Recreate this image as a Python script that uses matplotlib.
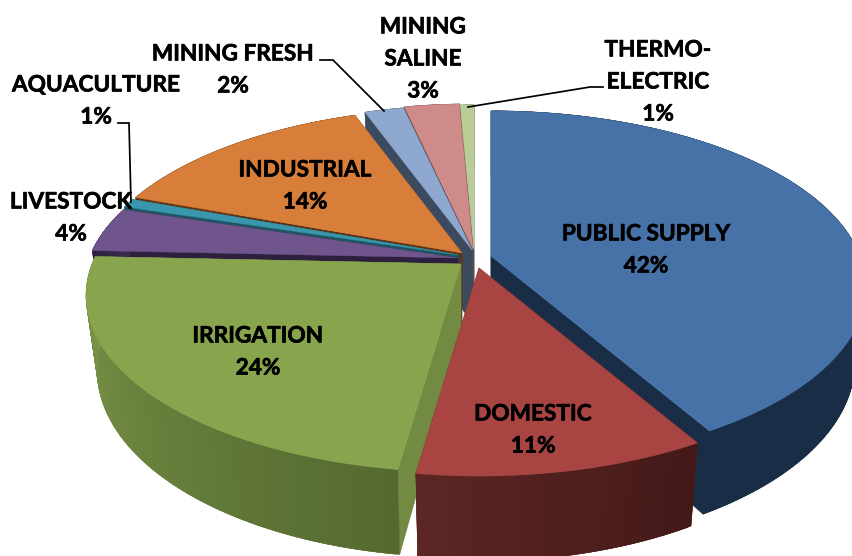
import numpy as np
import matplotlib
matplotlib.use("Agg")
import matplotlib.pyplot as plt
import matplotlib.patheffects as pe
from matplotlib.patches import Polygon
from matplotlib.colors import to_rgb

# ---- data (clockwise from 12 o'clock) ----
categories = ["PUBLIC SUPPLY", "DOMESTIC", "IRRIGATION", "LIVESTOCK", "AQUACULTURE",
              "INDUSTRIAL", "MINING FRESH", "MINING SALINE", "THERMO-ELECTRIC"]
values = [41.65, 10.6, 23.45, 4.1, 0.8, 13.9, 2.0, 2.8, 0.7]
label_texts = ["PUBLIC SUPPLY\n42%", "DOMESTIC\n11%", "IRRIGATION\n24%", "LIVESTOCK\n4%",
               "AQUACULTURE\n1%", "INDUSTRIAL\n14%", "MINING FRESH\n2%", "MINING\nSALINE\n3%",
               "THERMO-\nELECTRIC\n1%"]

# ---- styles ----
top_colors = ["#4672A8", "#A84543", "#88A54E", "#70558D", "#3A96AD", "#D77F3A", "#8FA8CF", "#CE8B8A", "#BACD96"]
wall_left = ["#1A2D46", "#5C2624", "#7E994B", "#3A2B4C", "#1F5563", "#6E3F18", "#3C4A60", "#6A4545", "#6D7A55"]
wall_right = ["#1A2D46", "#431917", "#55692F", "#2D203F", "#1F5563", "#5E3311", "#3C4A60", "#6A4545", "#6D7A55"]
cut_colors = ["#1A2D46", "#5C2624", "#728A42", "#2D203F", "#1F5563", "#5E3311", "#3C4A60", "#6A4545", "#4A5560"]
apex_x = [491, 479, 461, 458, 459, 462, 472, 473, 474]
apex_y = [256, 268, 264, 258, 255, 253, 250, 249, 250]
label_x = [646, 533, 258, 71, 96, 305, 233, 423, 658]
label_y = [250, 430, 352, 218, 101, 186, 70, 59, 82]
draw_order = [8, 7, 6, 5, 4, 3, 2, 0, 1]

RX, RY, K = 369.0, 171.0, 0.178
RX_LOW, RY_LOW, DROP = 358.0, 181.0, 73.0

fig = plt.figure(figsize=(8.53, 5.56), dpi=100)
ax = fig.add_axes([0, 0, 1, 1])
ax.set_xlim(0, 853)
ax.set_ylim(556, 0)
ax.axis("off")


def upper(i, th):
    u, v = np.sin(th), np.cos(th)
    w = 1 + K * v
    return apex_x[i] + RX * u / w, apex_y[i] - RY * v / w


def lower(i, th):
    u, v = np.sin(th), np.cos(th)
    w = 1 + K * v
    return apex_x[i] + RX_LOW * u / w, apex_y[i] + DROP - RY_LOW * v / w


edges = np.cumsum([0] + values) / np.sum(values) * 2 * np.pi

for z, i in enumerate(draw_order):
    a, b = edges[i], edges[i + 1]
    n = max(int((b - a) / np.radians(0.5)), 2)
    ths = np.linspace(a, b, n + 1)
    base = z * 10 + 2
    # radial cut faces
    for th in (a, b):
        ux, uy = upper(i, th)
        lx, ly = lower(i, th)
        ax.add_patch(Polygon([(apex_x[i], apex_y[i]), (ux, uy), (lx, ly), (apex_x[i], apex_y[i] + DROP)],
                             closed=True, fc=cut_colors[i], ec=cut_colors[i], lw=0.3, zorder=base))
    # outer wall: overlapping shaded strips, so no seams show
    c0, c1 = np.array(to_rgb(wall_left[i])), np.array(to_rgb(wall_right[i]))
    for j in range(n):
        t0, t1 = ths[j], ths[min(j + 2, n)]
        f = (j + 0.5) / n
        col = c1 * (1 - f) + c0 * f
        ax.add_patch(Polygon([upper(i, t0), upper(i, t1), lower(i, t1), lower(i, t0)],
                             closed=True, fc=col, ec=col, lw=0.3, zorder=base + 1))
    # top face
    pts = [(apex_x[i], apex_y[i])] + [upper(i, t) for t in ths]
    ax.add_patch(Polygon(pts, closed=True, fc=top_colors[i], ec=top_colors[i], lw=0.3, zorder=base + 2))

# leader lines
leader_x = [[320, 333, 384], [118, 129, 131], [603, 590, 468]]
leader_y = [[60, 60, 111], [123, 123, 202], [87, 87, 107]]
for lx, ly in zip(leader_x, leader_y):
    ax.plot(lx, ly, color="black", lw=1.25, zorder=200, solid_joinstyle="miter")

for s, x, y in zip(label_texts, label_x, label_y):
    ax.text(x, y, s, ha="center", va="center", family=["Lato", "DejaVu Sans"], weight="bold",
            fontsize=16.3, color="black", linespacing=1.65, zorder=300,
            path_effects=[pe.withStroke(linewidth=0.45, foreground="black")])

fig.savefig("out.png", dpi=100, facecolor="white")
